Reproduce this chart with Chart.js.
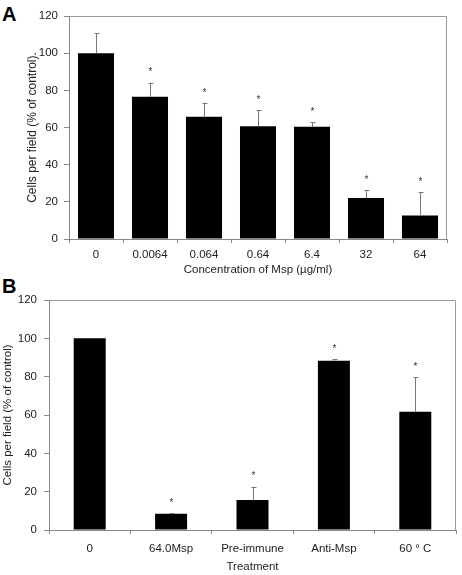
<!DOCTYPE html>
<html>
<head>
<meta charset="utf-8">
<script src="https://cdn.jsdelivr.net/npm/chart.js@4.4.0/dist/chart.umd.min.js"></script>
<style>
  body { margin: 0; background: #fff; width: 462px; height: 575px; overflow: hidden; position: relative; font-family: "Liberation Sans", Arial, sans-serif; }
  .panel { position: absolute; left: 0; width: 462px; }
  .letter { position: absolute; font-weight: bold; font-size: 20px; color: #000; line-height: 1; }
</style>
</head>
<body>
<div class="letter" style="left:2px;top:4px;">A</div>
<div class="letter" style="left:2px;top:276px;">B</div>
<div class="panel" style="top:0;height:280px;"><canvas id="chartA" width="462" height="280"></canvas></div>
<div class="panel" style="top:285px;height:290px;"><canvas id="chartB" width="462" height="290"></canvas></div>
<script>
// panel A - concentration series
var concLabels = ["0", "0.0064", "0.064", "0.64", "6.4", "32", "64"];
var concValues = [100, 76.6, 65.8, 60.7, 60.4, 22.0, 12.6];
var concErrors = [10.8, 7.6, 7.5, 8.5, 2.3, 4.3, 12.6];
var concStars = [false, true, true, true, true, true, true];

// panel B - treatments
var treatLabels = ["0", "64.0Msp", "Pre-immune", "Anti-Msp", "60 \u00b0 C"];
var treatValues = [100, 8.5, 15.6, 88.3, 61.7];
var treatErrors = [0, 0.3, 7.0, 0.9, 18.0];
var treatStars = [false, true, true, true, true];

var yTicks = [0, 20, 40, 60, 80, 100, 120];

Chart.defaults.font.family = '"Liberation Sans", Arial, sans-serif';
Chart.defaults.color = "#222";
Chart.defaults.animation = false;

// draws the upper error bar, the star and the frame round the plot
var errPlugin = {
    id: "errbars",
    afterDatasetsDraw: function (chart) {
        var ctx = chart.ctx;
        var ds = chart.data.datasets[0];
        var meta = chart.getDatasetMeta(0);
        var ys = chart.scales.y;
        var area = chart.chartArea;
        ctx.save();
        ctx.strokeStyle = "#999";
        ctx.lineWidth = 1;
        ctx.beginPath();
        ctx.moveTo(area.left, area.top + 0.5);
        ctx.lineTo(area.right - 0.5, area.top + 0.5);
        ctx.lineTo(area.right - 0.5, area.bottom);
        ctx.stroke();
        meta.data.forEach(function (bar, i) {
            var top = ys.getPixelForValue(ds.data[i] + ds.errors[i]);
            var x = Math.round(bar.x) + 0.5;
            if (ds.errors[i] > 0) {
                ctx.strokeStyle = "#777";
                ctx.beginPath();
                ctx.moveTo(x, bar.y);
                ctx.lineTo(x, top);
                ctx.moveTo(x - 2, Math.round(top) + 0.5);
                ctx.lineTo(x + 3, Math.round(top) + 0.5);
                ctx.stroke();
            }
            if (ds.stars[i]) {
                ctx.fillStyle = "#333";
                ctx.font = '10px "Liberation Sans", Arial, sans-serif';
                ctx.textAlign = "center";
                ctx.textBaseline = "middle";
                ctx.fillText("*", x, top - 10);
            }
        });
        ctx.restore();
    }
};

function makeChart(id, labels, values, errors, stars, opt) {
    return new Chart(document.getElementById(id), {
        type: "bar",
        data: {
            labels: labels,
            datasets: [{
                data: values,
                errors: errors,
                stars: stars,
                backgroundColor: "#000",
                borderWidth: 0,
                barPercentage: opt.barPct,
                categoryPercentage: 1
            }]
        },
        options: {
            responsive: false,
            layout: { padding: opt.padding },
            plugins: { legend: { display: false }, tooltip: { enabled: false } },
            scales: {
                x: {
                    grid: { drawOnChartArea: false, drawTicks: true, tickLength: 4, color: "#888", offset: true },
                    border: { color: "#888" },
                    ticks: { font: { size: 11.5 }, color: "#222", padding: opt.xPad, maxRotation: 0 },
                    title: { display: true, text: opt.xTitle, font: { size: 11.5 }, color: "#222", padding: 0 },
                    afterFit: function (s) { s.height = opt.xHeight; }
                },
                y: {
                    min: 0,
                    max: 120,
                    afterBuildTicks: function (s) { s.ticks = yTicks.map(function (v) { return { value: v }; }); },
                    grid: { drawOnChartArea: false, drawTicks: true, tickLength: 5, color: "#888" },
                    border: { color: "#888" },
                    ticks: { font: { size: 11.5 }, color: "#222", padding: opt.yPad },
                    title: { display: true, text: opt.yTitle, font: { size: opt.yTitleSize }, color: "#222", padding: { top: opt.yTitlePad, bottom: 0 } },
                    afterFit: function (s) { s.width = opt.yWidth; }
                }
            }
        },
        plugins: [errPlugin]
    });
}

makeChart("chartA", concLabels, concValues, concErrors, concStars, {
    barPct: 0.667,
    padding: { top: 16, right: 15, left: 0, bottom: 3 },
    xHeight: 38, xPad: 5, yPad: 6, yWidth: 69,
    xTitle: "Concentration of Msp (\u00b5g/ml)",
    yTitle: "Cells per field (% of control).",
    yTitleSize: 12, yTitlePad: 25
});

makeChart("chartB", treatLabels, treatValues, treatErrors, treatStars, {
    barPct: 0.393,
    padding: { top: 15, right: 6, left: 0, bottom: 1 },
    xHeight: 44, xPad: 8, yPad: 7, yWidth: 49,
    xTitle: "Treatment",
    yTitle: "Cells per field (% of control)",
    yTitleSize: 11.5, yTitlePad: 1
});
</script>
</body>
</html>
